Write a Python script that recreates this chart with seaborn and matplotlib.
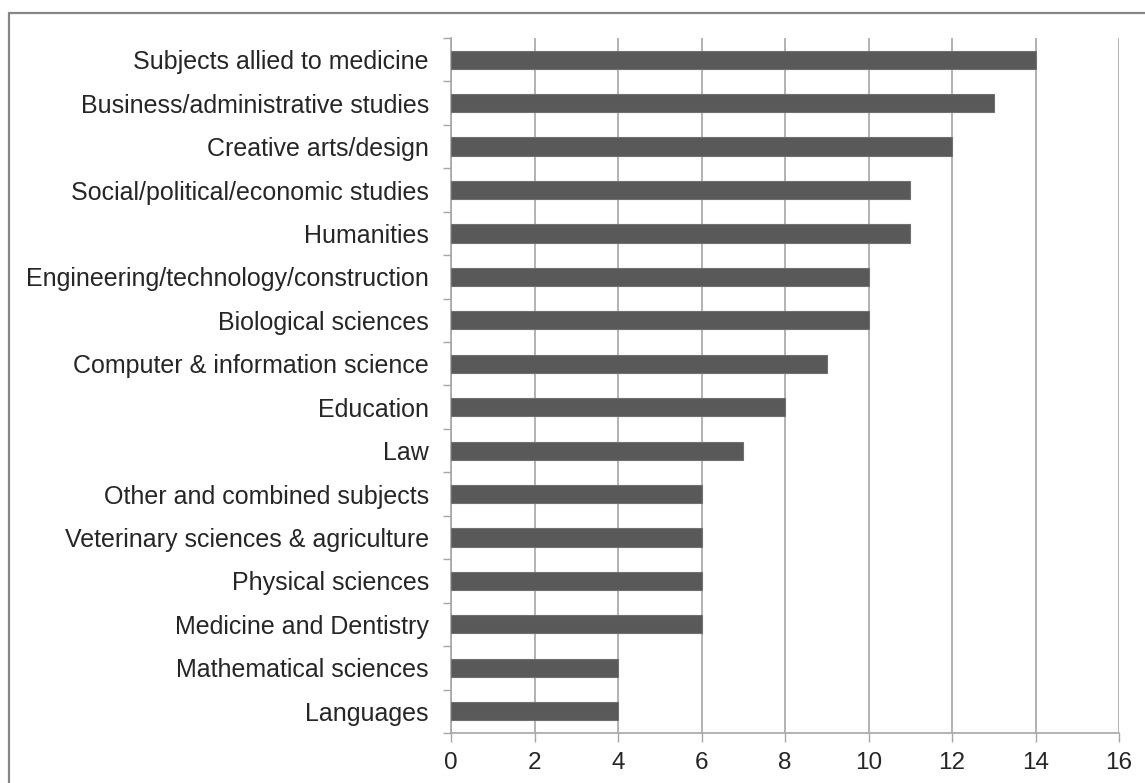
import matplotlib
matplotlib.use('Agg')

import numpy as np
import seaborn as sns
import matplotlib.pyplot as plt
from matplotlib.patches import Rectangle

# Data
subjects = [
    "Subjects allied to medicine",
    "Business/administrative studies",
    "Creative arts/design",
    "Social/political/economic studies",
    "Humanities",
    "Engineering/technology/construction",
    "Biological sciences",
    "Computer & information science",
    "Education",
    "Law",
    "Other and combined subjects",
    "Veterinary sciences & agriculture",
    "Physical sciences",
    "Medicine and Dentistry",
    "Mathematical sciences",
    "Languages",
]
counts = [14, 13, 12, 11, 11, 10, 10, 9, 8, 7, 6, 6, 6, 6, 4, 4]
x_ticks = [0, 2, 4, 6, 8, 10, 12, 14, 16]

sns.set_style("white")
plt.rcParams['font.family'] = ['Liberation Sans', 'DejaVu Sans']

grey = "#a6a6a6"
fig = plt.figure(figsize=(11.45, 7.83), dpi=100)
ax = fig.add_axes([0.3939, 0.0639, 0.5834, 0.8876])

sns.barplot(x=counts, y=subjects, orient="h", color="#595959", saturation=1,
            width=0.42, edgecolor="#707070", linewidth=0.8, ax=ax, zorder=3)

ax.set_xlim(0, 16)
ax.set_ylim(len(subjects) - 0.5, -0.5)
ax.set_xticks(x_ticks)
ax.set_xticklabels([str(t) for t in x_ticks])
ax.grid(axis="x", color=grey, linewidth=1.2, zorder=0)
ax.grid(axis="y", visible=False)

# category boundary ticks on the y axis, Excel style
ax.set_yticks(np.arange(-0.5, len(subjects), 1), minor=True)
ax.tick_params(axis="y", which="minor", left=True, length=6, width=1, color=grey)
ax.tick_params(axis="y", which="major", left=False, length=0, pad=16, labelsize=18)
ax.tick_params(axis="x", which="major", bottom=True, length=6.5, width=1, color=grey,
               pad=7, labelsize=17.5)

for side in ["top", "right"]:
    ax.spines[side].set_visible(False)
for side in ["left", "bottom"]:
    ax.spines[side].set_color(grey)
    ax.spines[side].set_linewidth(1.2)

ax.set_xlabel("")
ax.set_ylabel("")

# outer chart border (runs off the right and bottom edges)
fig.patches.append(Rectangle((9 / 1145, -0.1), 1.2, 1.1 - 13 / 783, transform=fig.transFigure,
                             fill=False, edgecolor="#878787", linewidth=1.6))

fig.savefig("out.png", dpi=100)
